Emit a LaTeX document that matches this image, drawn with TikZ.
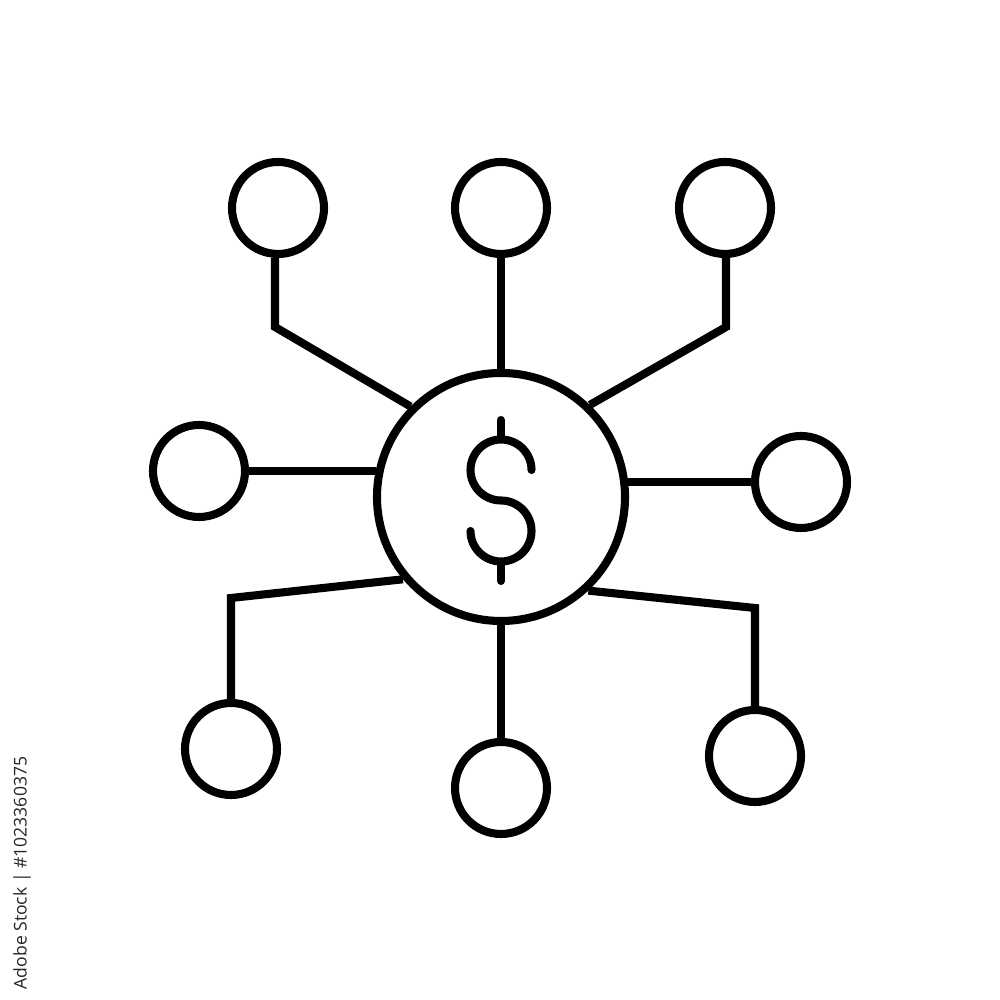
\documentclass[tikz,border=0pt]{standalone}
\usepackage{fontspec}
\newfontfamily\stockfont{Open Sans}
\usetikzlibrary{positioning}

\tikzset{
  hub/.style={circle, draw, line width=2.3pt, minimum size=2.48cm, inner sep=0pt},
  leaf/.style={circle, draw, line width=2.3pt, minimum size=0.92cm, inner sep=0pt},
  link/.style={line width=2.3pt},
  dollar/.style={line width=2.3pt, line cap=round},
}

\begin{document}
\begin{tikzpicture}

\useasboundingbox[fill=white] (0,0) rectangle (10,10);

\node[hub] (hub) at (5.01,5.03) {};

\node[leaf] (leaf-tl) at (2.78,7.92) {};
\node[leaf] (leaf-tm) at (5.01,7.92) {};
\node[leaf] (leaf-tr) at (7.25,7.92) {};
\node[leaf] (leaf-l) at (1.99,5.29) {};
\node[leaf] (leaf-r) at (8.01,5.18) {};
\node[leaf] (leaf-bl) at (2.31,2.51) {};
\node[leaf] (leaf-bm) at (5.01,2.12) {};
\node[leaf] (leaf-br) at (7.55,2.44) {};

\coordinate (bend-tl) at (2.75,6.73) ;
\coordinate (bend-tr) at (7.26,6.73) ;
\coordinate (bend-bl) at (2.31,4.02) ;
\coordinate (bend-br) at (7.55,3.92) ;

\draw[link] (leaf-tl.south -| bend-tl) -- (bend-tl) -- (hub.135);
\draw[link] (leaf-tm.south) -- (hub.north);
\draw[link] (leaf-tr.south -| bend-tr) -- (bend-tr) -- (hub.46);
\draw[link] (leaf-l.east) -- (hub.168 |- leaf-l.east);
\draw[link] (leaf-r.west) -- (hub.7 |- leaf-r.west);
\draw[link] (hub.220) -- (bend-bl) -- (leaf-bl.north);
\draw[link] (hub.south) -- (leaf-bm.north);
\draw[link] (hub.313) -- (bend-br) -- (leaf-br.north);

% dollar
\draw[dollar] (5.315,5.30) arc[start angle=0, end angle=270, radius=0.305]
  arc[start angle=90, end angle=-180, radius=0.305];
\draw[dollar] (5.01,5.62) -- (5.01,5.80);
\draw[dollar] (5.01,4.37) -- (5.01,4.19);

\node[rotate=90, text=black!85, font=\stockfont\fontsize{5pt}{6pt}\selectfont] (stock) at (0.22,1.27) {Adobe Stock | \#1023360375};

\end{tikzpicture}
\end{document}
